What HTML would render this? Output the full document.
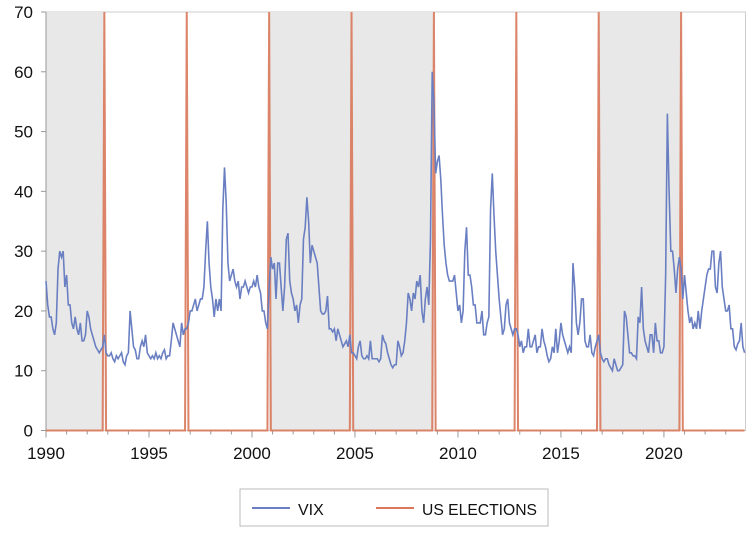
<!DOCTYPE html>
<html><head><meta charset="utf-8"><style>
body{margin:0;background:#fff;font-family:"Liberation Sans",sans-serif}
svg text{font-family:"Liberation Sans",sans-serif;fill:#111}
</style></head><body>
<svg id="c" width="754" height="533"></svg>
<script>
const startYear = 1990;
const vix = [
25,21,19,19,17,16,18,27,30,29,30,24,
26,21,21,18,17,19,17,16,18,15,15,16,
20,19,17,16,15,14,13.5,13,13.5,14,16,13,
12.5,12.5,13,12,11.5,12.5,12,12.5,13,11.5,11,12.5,
13,20,17,14,13.5,12,12,14,15,14,16,13,
12.5,12,12.5,12,13,12,12.5,12,13,13.5,12,12.5,
12.5,15,18,17,16,15,14,18,16,17,17,18,
20,20,21,22,20,21,22,22,24,30,35,28,
24,22,19,22,20,22,20,37,44,38,28,25,
26,27,25,24,25,22,24,24,25,24,23,24,
24,25,24,26,24,23,20,20,18,17,24,29,
27,28,22,28,28,24,20,24,32,33,25,23,
22,20,21,18,21,22,32,34,39,35,28,31,
30,29,28,24,20,19.5,19.5,20,22.5,17,17,16.5,
17,15,17,16,15,14,14.5,15,14,16,13,13,
12.5,12,14,15,12.5,12,12,12.5,12,15,12,12,
12,12,11.5,12,16,15,14.5,13,12,11,10.5,11,
11,15,14,12.5,13,15,18,23,22,20,23,22,
25,24,26,20,18,22,24,21,32,60,55,43,
45,46,42,36,31,28,26,25,25,25,26,23,
20,21,18,20,30,34,26,26,24,21,21,18,
18,18,20,16,16,18,19,37,43,36,30,26,
22,19,16,17,21,22,18,17,16,17,17,16,
14,15,13,14,14,17,14,14,15,16,13,14,
14,17,15,14,12.5,11.5,12,14,13,17,13,15,
18,16,15,14,13,14,13,28,24,18,16,18,
22,22,15,14,14,16,13,12.5,14,15,16,13,
12,11.5,12,12,11,10.5,10,12,11,10,10,10.5,
11,20,19,16,13,13,12.5,12.5,12,19,18,24,
17,15,14,13,16,16,13,18,15,15,13,13,
14,26,53,40,30,30,27,23,27,29,27,22,
26,23,20,18,19,17,18,17,20,17,20,22,
24,26,27,27,30,30,24,23,28,30,24,22,
20,20,21,17,17,14,13.5,14.5,15,18,14,13];
const electionYears = [1992,1996,2000,2004,2008,2012,2016,2020];
const electionValue = [100,100,100,100,100,100,100,100];
const shadedStart = [1990.0,2000.83,2016.83];
const shadedEnd = [1992.83,2008.83,2020.83];
const yTicks = [0,10,20,30,40,50,60,70];
const xTickLabels = [1990,1995,2000,2005,2010,2015,2020];

const L=46,R=745.5,T=12,B=430.5,X0=1990,X1=2023.96;
const sx=t=>L+(t-X0)/(X1-X0)*(R-L);
const sy=v=>B-Math.min(v,70)/70*(B-T);
const svg=document.getElementById('c');
const NS='http://www.w3.org/2000/svg';
function mk(tag,attrs,parent){const e=document.createElementNS(NS,tag);for(const k in attrs)e.setAttribute(k,attrs[k]);(parent||svg).appendChild(e);return e;}

const plot=mk('rect',{x:L,y:T,width:R-L,height:B-T,fill:'#fff',stroke:'#ccc'});


for(let i=0;i<shadedStart.length;i++){
  const r=mk('rect',{x:sx(shadedStart[i]),y:T,width:sx(shadedEnd[i])-sx(shadedStart[i]),height:B-T,fill:'#e8e8e8'});
  
  
}
yTicks.forEach(v=>{
  const t=mk('text',{x:33,y:sy(v)+6,'text-anchor':'end','font-size':17});
  t.textContent=v;
  
  
  mk('line',{x1:41,x2:L,y1:sy(v),y2:sy(v),stroke:'#999'});
});
mk('line',{x1:L,x2:L,y1:T,y2:B,stroke:'#999'});
for(let y=1990;y<=2023;y++){mk('line',{x1:sx(y),x2:sx(y),y1:B,y2:B+(y%5==0?7:4),stroke:'#999'});}
xTickLabels.forEach(y=>{
  const t=mk('text',{x:sx(y),y:459,'text-anchor':'middle','font-size':17});
  t.textContent=y;
  
  
});
let ep=[];
const nMonths=vix.length;
for(let i=0;i<nMonths;i++){
  const yr=startYear+Math.floor(i/12), m=i%12;
  const idx=electionYears.indexOf(yr);
  const v=(idx>=0&&m==10)?electionValue[idx]:0;
  ep.push(sx(startYear+i/12).toFixed(2)+','+sy(v).toFixed(2));
}
const el=mk('polyline',{points:ep.join(' '),fill:'none',stroke:'#d9785a','stroke-width':2,'stroke-opacity':0.9});


const vp=vix.map((v,i)=>sx(startYear+i/12).toFixed(2)+','+sy(v).toFixed(2));
const vl=mk('polyline',{points:vp.join(' '),fill:'none',stroke:'#6a7fc2','stroke-width':1.6});


const lg=mk('g',{});


mk('rect',{x:240,y:489,width:308,height:37,fill:'#fff',stroke:'#bbb'},lg);
mk('line',{x1:252,x2:290,y1:508,y2:508,stroke:'#6a7fc2','stroke-width':2},lg);
const t1=mk('text',{x:298,y:515,'font-size':16},lg);t1.textContent='VIX';


mk('line',{x1:376,x2:414,y1:508,y2:508,stroke:'#d9785a','stroke-width':2},lg);
const t2=mk('text',{x:422,y:515,'font-size':16,textLength:115,lengthAdjust:'spacingAndGlyphs'},lg);t2.textContent='US ELECTIONS';


</script>
</body></html>
